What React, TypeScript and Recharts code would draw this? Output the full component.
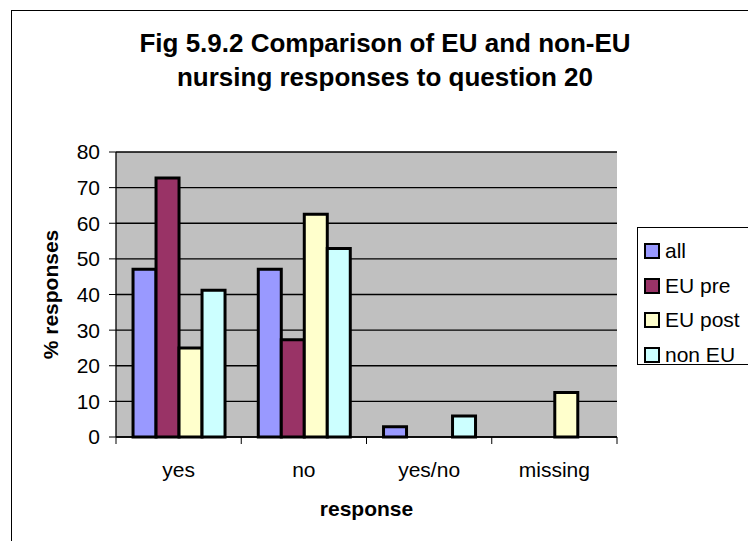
import { Bar, BarChart, CartesianGrid, Legend, XAxis, YAxis } from "recharts";

const categories = ["yes", "no", "yes/no", "missing"];
const allValues = [47.1, 47.1, 2.9, 0];
const euPreValues = [72.7, 27.3, 0, 0];
const euPostValues = [25, 62.5, 0, 12.5];
const nonEuValues = [41.2, 52.9, 5.9, 0];
const yTicks = [0, 10, 20, 30, 40, 50, 60, 70, 80];

const series = [
  { key: "all", name: "all", color: "#9999FF", values: allValues },
  { key: "euPre", name: "EU pre", color: "#993366", values: euPreValues },
  { key: "euPost", name: "EU post", color: "#FFFFCC", values: euPostValues },
  { key: "nonEu", name: "non EU", color: "#CCFFFF", values: nonEuValues },
];

const data = categories.map((category, i) => {
  const row: Record<string, string | number> = { category };
  series.forEach((s) => {
    row[s.key] = s.values[i];
  });
  return row;
});

const W = 748;
const H = 541;
const PLOT_LEFT = 116;
const PLOT_RIGHT = 617;
const PLOT_TOP = 152;
const PLOT_BOTTOM = 437;
const FONT = "'Liberation Sans', Arial, sans-serif";
const band = (PLOT_RIGHT - PLOT_LEFT) / categories.length;

function CategoryTick(props: any) {
  const { x, y, payload, index } = props;
  return (
    <g>
      <line x1={x - band / 2} y1={y} x2={x - band / 2} y2={y + 7} stroke="#000" strokeWidth={1} />
      {index === categories.length - 1 && (
        <line x1={x + band / 2} y1={y} x2={x + band / 2} y2={y + 7} stroke="#000" strokeWidth={1} />
      )}
      <text x={x} y={y + 40} textAnchor="middle" fontSize={21} fontFamily={FONT} fill="#000">
        {payload.value}
      </text>
    </g>
  );
}

function LegendBox() {
  return (
    <div
      style={{
        border: "1px solid #000",
        background: "#fff",
        width: 130,
        height: 138,
        boxSizing: "border-box",
        paddingTop: 6,
        fontFamily: FONT,
        fontSize: 21,
      }}
    >
      {series.map((s) => (
        <div key={s.key} style={{ display: "flex", alignItems: "center", height: 34.5 }}>
          <span
            style={{
              display: "inline-block",
              width: 12,
              height: 12,
              marginLeft: 6,
              marginRight: 5,
              background: s.color,
              border: "2px solid #000",
            }}
          />
          <span>{s.name}</span>
        </div>
      ))}
    </div>
  );
}

export default function App() {
  return (
    <div style={{ position: "relative", width: W, height: H, overflow: "hidden", background: "#fff" }}>
      <style>{`body{margin:0}`}</style>
      <div
        style={{
          position: "absolute",
          left: 11,
          top: 10,
          width: W + 20,
          height: H + 20,
          border: "1px solid #000",
        }}
      />
      <div
        style={{
          position: "absolute",
          left: 0,
          top: 26,
          width: 770,
          textAlign: "center",
          fontFamily: FONT,
          fontWeight: "bold",
          fontSize: 26,
          lineHeight: "34px",
          color: "#000",
        }}
      >
        Fig 5.9.2 Comparison of EU and non-EU
        <br />
        nursing responses to question 20
      </div>
      <div style={{ position: "absolute", left: 0, top: 0 }}>
        <BarChart
          width={W}
          height={H}
          data={data}
          margin={{ top: PLOT_TOP, right: W - PLOT_RIGHT, bottom: 0, left: 0 }}
          barCategoryGap="13.6%"
          barGap={0}
        >
          <CartesianGrid horizontal vertical={false} stroke="#000" strokeWidth={1.3} fill="#C0C0C0" fillOpacity={1} />
          <XAxis
            dataKey="category"
            height={H - PLOT_BOTTOM}
            tickLine={false}
            tickSize={0}
            tickMargin={0}
            axisLine={{ stroke: "#000", strokeWidth: 1.3 }}
            tick={<CategoryTick />}
            interval={0}
            label={{
              value: "response",
              position: "insideBottom",
              offset: 25,
              style: { fontFamily: FONT, fontWeight: "bold", fontSize: 21, fill: "#000" },
            }}
          />
          <YAxis
            width={PLOT_LEFT}
            domain={[0, 80]}
            ticks={yTicks}
            interval={0}
            tickSize={7}
            tickMargin={9}
            axisLine={{ stroke: "#000", strokeWidth: 1.3 }}
            tickLine={{ stroke: "#000" }}
            tick={{ fontFamily: FONT, fontSize: 21, fill: "#000" }}
            label={{
              value: "% responses",
              angle: -90,
              position: "center",
              dx: -7,
              style: { fontFamily: FONT, fontWeight: "bold", fontSize: 21, fill: "#000" },
            }}
          />
          <YAxis
            yAxisId="frame"
            orientation="right"
            width={0}
            domain={[0, 80]}
            tick={false}
            tickLine={false}
            axisLine={{ stroke: "#808080", strokeWidth: 2 }}
          />
          <Legend
            layout="vertical"
            align="center"
            verticalAlign="middle"
            wrapperStyle={{ position: "absolute", left: 637, top: 227, width: 130, height: 138 }}
            content={() => <LegendBox />}
          />
          {series.map((s) => (
            <Bar
              key={s.key}
              dataKey={s.key}
              name={s.name}
              fill={s.color}
              stroke="#000"
              strokeWidth={3}
              isAnimationActive={false}
            />
          ))}
        </BarChart>
      </div>
    </div>
  );
}
